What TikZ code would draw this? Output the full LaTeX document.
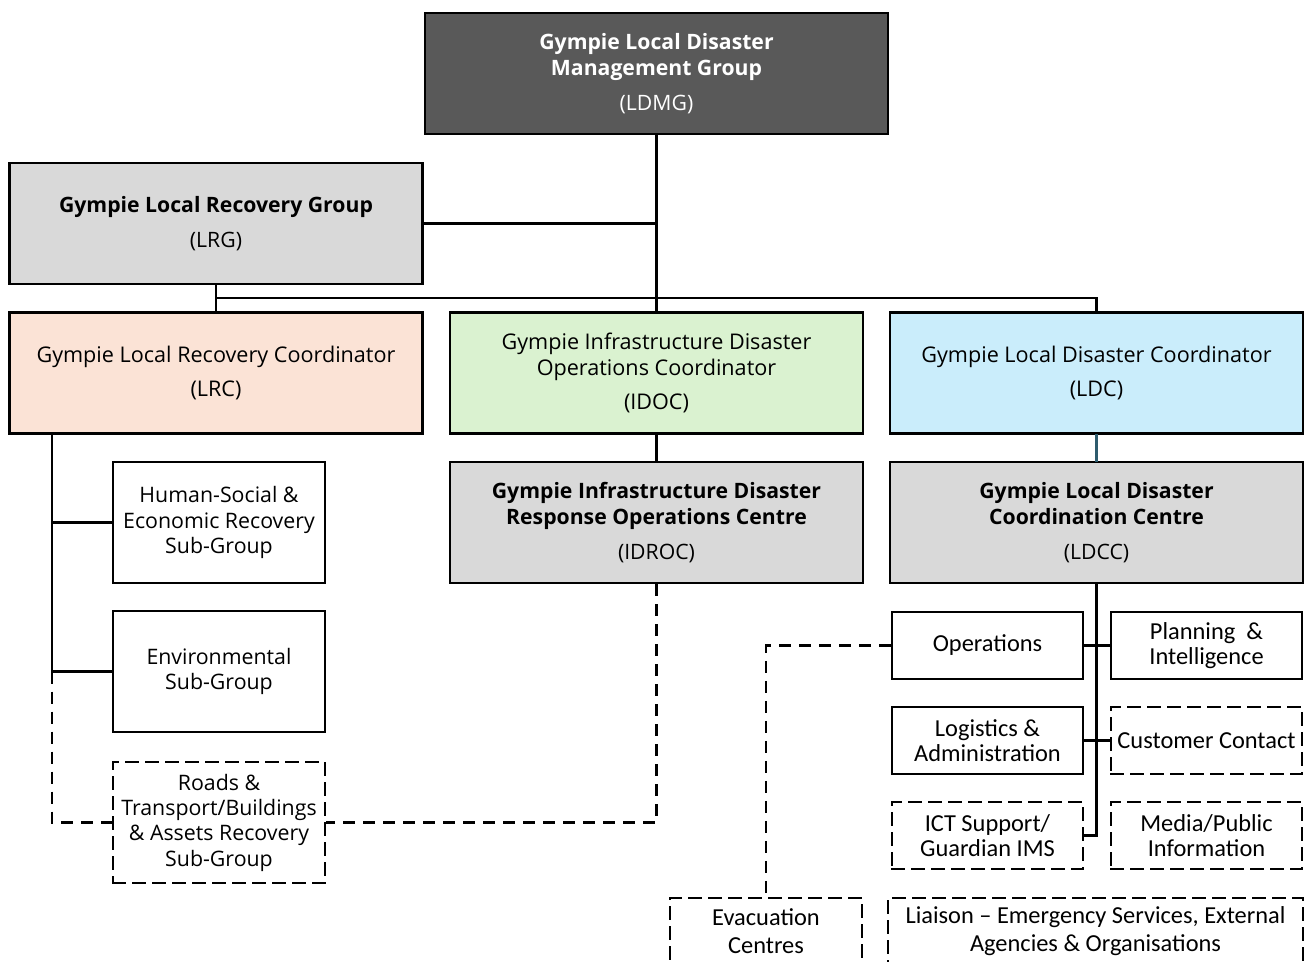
\documentclass[tikz,border=0pt]{standalone}
\usepackage{fontspec}
\setmainfont{Open Sans}
\newfontfamily\calfont[Ligatures=TeX]{Carlito}
\usetikzlibrary{positioning}
\definecolor{groupdark}{HTML}{595959}
\definecolor{groupgray}{HTML}{D9D9D9}
\definecolor{lrcpeach}{HTML}{FBE3D6}
\definecolor{idocgreen}{HTML}{DAF2D0}
\definecolor{ldcblue}{HTML}{CAEDFB}
\definecolor{ldclink}{HTML}{2E5C6E}
\begin{document}
\begin{tikzpicture}[x=0.75pt, y=-0.75pt, line join=miter, line cap=rect,
	font=\fontsize{16.2}{19.5}\selectfont,
	unit/.style={draw=black, line width=2pt, align=center, inner sep=0pt},
	bigbox/.style={unit, minimum width=309.75pt, minimum height=90.75pt},
	subbox/.style={unit, fill=white, minimum width=159pt, minimum height=90.75pt, font=\fontsize{16}{19}\selectfont},
	cellbox/.style={unit, fill=white, minimum width=143.25pt, minimum height=50.25pt, font=\calfont\fontsize{18.3}{19}\selectfont},
	dashbox/.style={dash pattern=on 9pt off 6pt},
	link/.style={draw=black, line width=2pt},
	dashlink/.style={link, dash pattern=on 9pt off 6pt, line cap=butt}]
	\useasboundingbox (0,0) rectangle (1313,962);
	% Top level groups
	\node[bigbox, fill=groupdark, text=white, font=\bfseries\fontsize{15.9}{19.5}\selectfont, minimum width=347.25pt] (ldmg) at (656.5,73.5) {Gympie Local Disaster\\Management Group\\[6.5pt]\mdseries (LDMG)};
	\node[bigbox, fill=groupgray, font=\bfseries\fontsize{15.9}{19.5}\selectfont] (lrg) at (216,223.5) {Gympie Local Recovery Group\\[6.5pt]\mdseries (LRG)};
	% Coordinators
	\node[bigbox, fill=lrcpeach] (lrc) at (216,373) {Gympie Local Recovery Coordinator\\[6.5pt](LRC)};
	\node[bigbox, fill=idocgreen] (idoc) at (656.5,373) {Gympie Infrastructure Disaster\\Operations Coordinator\\[6.5pt](IDOC)};
	\node[bigbox, fill=ldcblue] (ldc) at (1096.5,373) {Gympie Local Disaster Coordinator\\[6.5pt](LDC)};
	% Centres
	\node[bigbox, fill=groupgray, font=\bfseries\fontsize{15.9}{19.5}\selectfont] (idroc) at (656.5,522.5) {Gympie Infrastructure Disaster\\Response Operations Centre\\[6.5pt]\mdseries (IDROC)};
	\node[bigbox, fill=groupgray, font=\bfseries\fontsize{15.9}{19.5}\selectfont] (ldcc) at (1096.5,522.5) {Gympie Local Disaster\\Coordination Centre\\[6.5pt]\mdseries (LDCC)};
	% Recovery sub-groups
	\node[subbox] (hsg) at (219,522.5) {Human-Social \&\\Economic Recovery\\Sub-Group};
	\node[subbox] (env) at (219,671.5) {Environmental\\Sub-Group};
	\node[subbox, dashbox] (roads) at (219,822.5) {Roads \&\\Transport/Buildings\\\& Assets Recovery\\Sub-Group};
	% LDCC functions
	\node[cellbox] (ops) at (987.5,645.5) {Operations};
	\node[cellbox] (plan) at (1206.5,645.5) {Planning~~\&\\Intelligence};
	\node[cellbox] (logi) at (987.5,740.5) {Logistics \&\\Administration};
	\node[cellbox, dashbox] (cust) at (1206.5,740.5) {Customer Contact};
	\node[cellbox, dashbox] (ict) at (987.5,835.5) {ICT Support/\\Guardian IMS};
	\node[cellbox, dashbox] (media) at (1206.5,835.5) {Media/Public\\Information};
	\node[cellbox, dashbox, minimum width=144pt, font=\calfont\fontsize{18.3}{21}\selectfont] (evac) at (766,931.5) {Evacuation\\Centres};
	\node[cellbox, dashbox, minimum width=311.25pt, font=\calfont\fontsize{18.3}{21}\selectfont] (liaison) at (1095.5,931.5) {Liaison – Emergency Services, External\\Agencies \& Organisations};
	% Connectors
	\coordinate (busl) at (216,298);
	\coordinate (busr) at (1096.5,298);
	\coordinate (spine) at (52,434);
	\draw[link] (ldmg.south) -- (idoc.north);
	\draw[link] (lrg.east) -- (lrg.east -| ldmg.south);
	\draw[link] (lrg.south) -- (lrc.north);
	\draw[link] (busl) -- (busr) -- (ldc.north);
	\draw[link] (idoc.south) -- (idroc.north);
	\draw[link, draw=ldclink] (ldc.south) -- (ldcc.north);
	\draw[link] (spine) |- (hsg.west);
	\draw[link] (spine) |- (env.west);
	\draw[dashlink] (spine |- env.west) |- (roads.west);
	\draw[dashlink] (idroc.south) |- (roads.east);
	\draw[link] (ldcc.south) |- (ict.east);
	\draw[link] (ops.east) -- (plan.west);
	\draw[link] (logi.east) -- (cust.west);
	\draw[dashlink] (ops.west) -| (evac.north);
\end{tikzpicture}
\end{document}
